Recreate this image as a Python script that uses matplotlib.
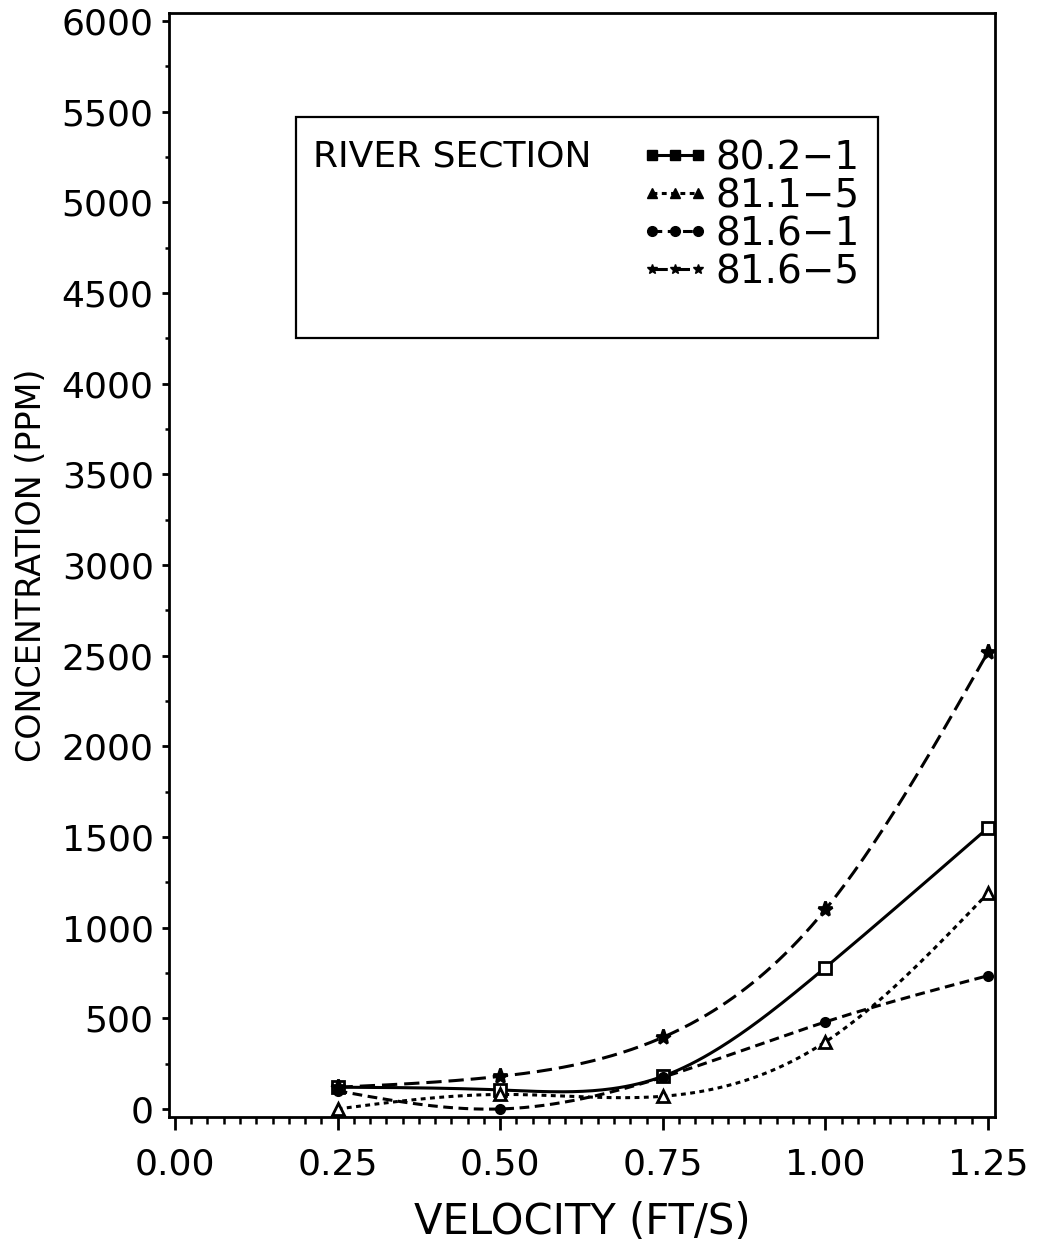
import numpy as np
import matplotlib
matplotlib.use("Agg")
import matplotlib.pyplot as plt
from matplotlib.lines import Line2D
from matplotlib.patches import Rectangle
from matplotlib.ticker import MultipleLocator, FixedLocator, FormatStrFormatter

# sediment concentration (ppm) against flow velocity (ft/s), per river section
velocity = [0.25, 0.50, 0.75, 1.00, 1.25]
sec_80_2_1 = [120, 105, 180, 780, 1550]
sec_81_1_5 = [0, 80, 70, 370, 1190]
sec_81_6_1 = [100, 0, 175, 480, 735]
sec_81_6_5 = [120, 180, 395, 1100, 2520]
section_names = ["80.2\u22121", "81.1\u22125", "81.6\u22121", "81.6\u22125"]

x_ticks = [0.00, 0.25, 0.50, 0.75, 1.00, 1.25]
y_ticks = list(range(0, 6001, 500))

plt.rcParams['font.family'] = ['DejaVu Sans']
plt.rcParams['lines.scale_dashes'] = False


def natural_spline(x, y, n=200):
    # natural cubic spline through the points, for a smooth curve
    x = np.asarray(x, float)
    y = np.asarray(y, float)
    k = len(x)
    h = np.diff(x)
    A = np.zeros((k, k))
    r = np.zeros(k)
    A[0, 0] = 1
    A[-1, -1] = 1
    for i in range(1, k - 1):
        A[i, i - 1] = h[i - 1]
        A[i, i] = 2 * (h[i - 1] + h[i])
        A[i, i + 1] = h[i]
        r[i] = 6 * ((y[i + 1] - y[i]) / h[i] - (y[i] - y[i - 1]) / h[i - 1])
    M = np.linalg.solve(A, r)
    xs = np.linspace(x[0], x[-1], n)
    idx = np.clip(np.searchsorted(x, xs) - 1, 0, k - 2)
    x0, x1 = x[idx], x[idx + 1]
    hh = x1 - x0
    a = (x1 - xs) / hh
    b = (xs - x0) / hh
    ys = (a * y[idx] + b * y[idx + 1]
          + ((a ** 3 - a) * M[idx] + (b ** 3 - b) * M[idx + 1]) * hh ** 2 / 6)
    return xs, ys


series = [sec_80_2_1, sec_81_1_5, sec_81_6_1, sec_81_6_5]
styles = [
    dict(ls='-', marker='s', ms=9, mfc='white'),
    dict(ls=(0, (3.5, 3.2)), marker='^', ms=9, mfc='white'),
    dict(ls=(0, (7, 4)), marker='o', ms=6, mfc='black'),
    dict(ls=(0, (11, 5)), marker='*', ms=11, mfc='black'),
]

fig = plt.figure(figsize=(10.38, 12.55), dpi=100)
ax = fig.add_axes([0.1628, 0.1100, 0.7958, 0.8797])

for vals, st in zip(series, styles):
    xs, ys = natural_spline(velocity, vals)
    ax.plot(xs, ys, color='black', lw=2.2, ls=st['ls'], zorder=2)
    ax.plot(velocity, vals, ls='none', marker=st['marker'], ms=st['ms'],
            mfc=st['mfc'], mec='black', mew=2, zorder=3)

ax.set_xlim(-0.0092, 1.2608)
ax.set_ylim(-44, 6044)

ax.xaxis.set_major_locator(FixedLocator(x_ticks))
ax.xaxis.set_major_formatter(FormatStrFormatter('%.2f'))
ax.xaxis.set_minor_locator(MultipleLocator(0.025))
ax.yaxis.set_major_locator(FixedLocator(y_ticks))
ax.yaxis.set_minor_locator(MultipleLocator(250))

ax.tick_params(axis='x', which='major', direction='out', length=9, width=2,
               labelsize=26, pad=13)
ax.tick_params(axis='x', which='minor', direction='out', length=5, width=1.8)
ax.tick_params(axis='y', which='major', direction='out', length=5, width=2,
               labelsize=26, pad=6)
ax.tick_params(axis='y', which='minor', direction='out', length=3, width=1.8)
for sp in ax.spines.values():
    sp.set_linewidth(2)

ax.set_xlabel("VELOCITY (FT/S)", fontsize=30, va='center')
ax.xaxis.set_label_coords(0.5, -0.0951)
ax.set_ylabel("CONCENTRATION (PPM)", fontsize=24, va='center')
ax.yaxis.set_label_coords(-0.167, 0.5)

# legend box with its title on the left
ax.add_patch(Rectangle((0.1538, 0.7056), 0.704, 0.2002, transform=ax.transAxes,
                       fill=False, lw=1.6, ec='black', zorder=4))
ax.text(0.1743, 0.8696, "RIVER SECTION", transform=ax.transAxes,
        fontsize=26, ha='left', va='center')

handles = [Line2D([], [], color='black', lw=2.2, ls=st['ls'],
                  marker=st['marker'], ms=7, mfc='black', mec='black')
           for st in styles]
ax.legend(handles, section_names, loc='upper left',
          bbox_to_anchor=(640 / 1038, 1 - 139 / 1255),
          bbox_transform=fig.transFigure, frameon=False, numpoints=3,
          handlelength=1.8, handletextpad=0.13, labelspacing=0.0,
          borderpad=0, borderaxespad=0, fontsize=28)

fig.savefig("out.png", dpi=100)
